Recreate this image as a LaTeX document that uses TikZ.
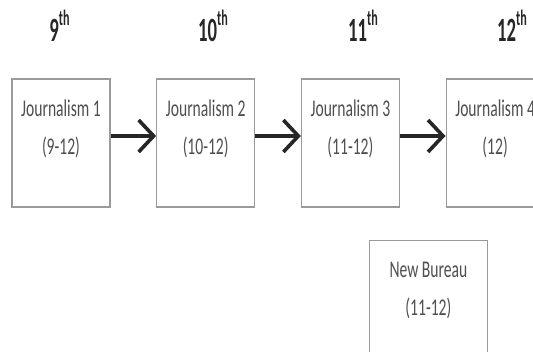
\documentclass[tikz,border=0pt]{standalone}
\usepackage{fontspec}
\setmainfont{Carlito}
\newfontfamily\boxfont[FakeStretch=0.65]{Carlito}
\newfontfamily\yearfont[FakeStretch=0.55]{Carlito}
\usetikzlibrary{arrows.meta,positioning}
\definecolor{boxgray}{HTML}{9A9A9A}
\definecolor{labelgray}{HTML}{4F4F4F}
\definecolor{arrowblack}{HTML}{262626}
\newcommand{\yearsup}[1]{\raisebox{16pt}{\fontsize{22}{22}\selectfont #1}}

\begin{document}
\begin{tikzpicture}[node distance=144.7pt,semithick]
                  \tikzstyle{course}=[draw=boxgray,line width=1.2pt,fill=white,minimum width=98pt,minimum height=128pt,inner sep=0pt]
                  \tikzstyle{coursetext}=[align=center,text=labelgray,font=\boxfont\fontsize{24}{38}\selectfont,inner sep=0pt]
                  \tikzstyle{year}=[anchor=base,text=arrowblack,font=\yearfont\bfseries\fontsize{34}{36}\selectfont,inner sep=0pt]
                  \tikzstyle{nextarrow}=[draw=arrowblack,line width=3.6pt,-{Straight Barb[length=15pt,width=32pt]}]

                  \useasboundingbox (0,0) rectangle (533pt,-351pt);
                  \clip (0,0) rectangle (533pt,-351pt);

                  \node[course]         (J1) at (61pt,-143pt) {};
                  \node[course]         (J2) [right of=J1] {};
                  \node[course]         (J3) [right of=J2] {};
                  \node[course]         (J4) [right of=J3] {};
                  \node[course,minimum width=118pt] (NB) [below=32pt of J3,xshift=78pt] {};

                  \node[coursetext] (J1text) at ([yshift=14pt]J1.center) {Journalism 1\\(9-12)};
                  \node[coursetext] (J2text) at ([yshift=14pt]J2.center) {Journalism 2\\(10-12)};
                  \node[coursetext] (J3text) at ([yshift=14pt]J3.center) {Journalism 3\\(11-12)};
                  \node[coursetext] (J4text) at ([yshift=14pt]J4.center) {Journalism 4\\(12)};
                  \node[coursetext] (NBtext) at ([yshift=14pt]NB.center) {New Bureau\\(11-12)};

                  \node[year] (Y9)  at (59.5pt,-41pt) {9\yearsup{th}};
                  \node[year] (Y10) at (213pt,-41pt)  {10\yearsup{th}};
                  \node[year] (Y11) at (363pt,-41pt)  {11\yearsup{th}};
                  \node[year] (Y12) at (512pt,-41pt)  {12\yearsup{th}};

                  \draw[nextarrow] ([yshift=7pt]J1.east) -- ([yshift=7pt]J2.west);
                  \draw[nextarrow] ([yshift=7pt]J2.east) -- ([yshift=7pt]J3.west);
                  \draw[nextarrow] ([yshift=7pt]J3.east) -- ([yshift=7pt]J4.west);
                \end{tikzpicture}
\end{document}
